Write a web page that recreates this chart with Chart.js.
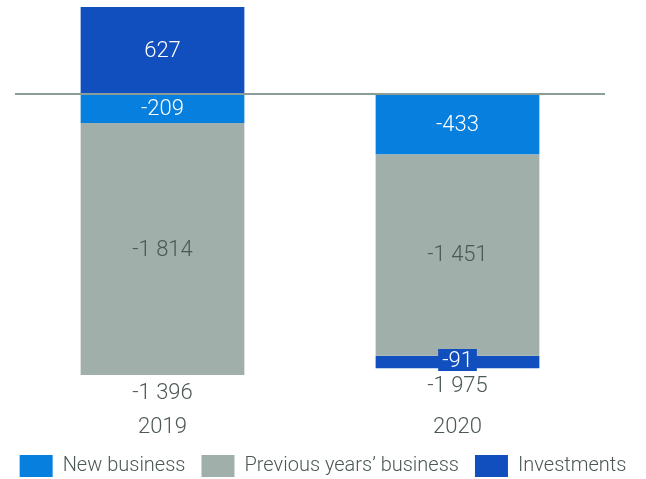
<!DOCTYPE html>
<html>
<head>
<meta charset="utf-8">
<script src="https://cdn.jsdelivr.net/npm/chart.js@4/dist/chart.umd.min.js"></script>
<style>
  html, body { margin: 0; padding: 0; background: #fff; }
  #wrap { width: 646px; height: 479px; }
</style>
</head>
<body>
<div id="wrap"><canvas id="chart-canvas" width="646" height="479"></canvas></div>
<script>
'use strict';

var YEARS          = ['2019', '2020'];
var NEW_BUSINESS   = [-209, -433];
var PREVIOUS_YEARS = [-1814, -1451];
var INVESTMENTS    = [627, -91];
var SERIES_NAMES   = ['New business', 'Previous years\u2019 business', 'Investments'];

var COLOR_NEW   = '#077fde';
var COLOR_PREV  = '#a1afab';
var COLOR_INV   = '#104fbd';
var COLOR_TEXT  = '#4b5854';
var COLOR_ZERO  = '#8c9c97';
var FONT        = 'Roboto, "Liberation Sans", sans-serif';

function fmt(v) {
	var s = Math.abs(v).toString().replace(/\B(?=(\d{3})+(?!\d))/g, ' ');
	return (v < 0 ? '-' : '') + s;
}

// valores dentro de las barras, totales y linea del cero
var labelsPlugin = {
	id: 'labels',
	beforeInit: function(chart) {
		// altura fija para la leyenda
		var originalFit = chart.legend.fit;
		chart.legend.fit = function() {
			originalFit.bind(chart.legend)();
			this.height = 40;
		};
	},
	afterDatasetsDraw: function(chart) {
		var ctx = chart.ctx;
		var area = chart.chartArea;
		var y0 = chart.scales.y.getPixelForValue(0);

		ctx.save();
		ctx.strokeStyle = COLOR_ZERO;
		ctx.lineWidth = 2;
		ctx.beginPath();
		ctx.moveTo(area.left, y0);
		ctx.lineTo(area.right, y0);
		ctx.stroke();

		ctx.textAlign = 'center';
		ctx.textBaseline = 'middle';
		ctx.font = '300 22px ' + FONT;

		chart.data.datasets.forEach(function(ds, di) {
			var meta = chart.getDatasetMeta(di);
			meta.data.forEach(function(bar, i) {
				var v = ds.data[i];
				var h = Math.abs(bar.base - bar.y);
				var cy = (bar.y + bar.base) / 2;
				var txt = fmt(v);
				if (h < 20) {
					var w = ctx.measureText(txt).width + 8;
					cy -= 2;
					ctx.fillStyle = ds.backgroundColor;
					ctx.fillRect(bar.x - w / 2, cy - 11, w, 22);
					ctx.fillStyle = '#ffffff';
				} else {
					ctx.fillStyle = di === 1 ? COLOR_TEXT : '#ffffff';
				}
				ctx.fillText(txt, bar.x, cy + 1);
			});
		});

		// totales debajo de cada barra
		YEARS.forEach(function(y, i) {
			var total = 0, bottom = y0;
			chart.data.datasets.forEach(function(ds, di) {
				total += ds.data[i];
				var bar = chart.getDatasetMeta(di).data[i];
				bottom = Math.max(bottom, bar.y, bar.base);
			});
			var x = chart.getDatasetMeta(0).data[i].x;
			ctx.fillStyle = COLOR_TEXT;
			ctx.fillText(fmt(total), x, bottom + 18);
		});
		ctx.restore();
	}
};

var ctx = document.getElementById('chart-canvas');

var myChart = new Chart(ctx, {
	type: 'bar',
	data: {
		labels: YEARS,
		datasets: [
			{ label: SERIES_NAMES[0], data: NEW_BUSINESS,   backgroundColor: COLOR_NEW },
			{ label: SERIES_NAMES[1], data: PREVIOUS_YEARS, backgroundColor: COLOR_PREV },
			{ label: SERIES_NAMES[2], data: INVESTMENTS,    backgroundColor: COLOR_INV }
		]
	},
	options: {
		responsive: false,
		animation: false,
		layout: { padding: { left: 0, right: 0, top: 7, bottom: 0 } },
		datasets: { bar: { categoryPercentage: 1, barPercentage: 0.555, borderWidth: 0 } },
		scales: {
			x: {
				stacked: true,
				grid: { display: false },
				border: { display: false },
				ticks: { padding: 31, color: COLOR_TEXT, font: { family: FONT, size: 22, weight: '300' } },
				afterFit: function(axis) { axis.height = 64; }
			},
			y: {
				stacked: true,
				min: -2023,
				max: 627,
				grid: { display: false },
				border: { display: false },
				ticks: { display: false },
				afterFit: function(axis) { axis.width = 15; }
			},
			yr: {
				position: 'right',
				grid: { display: false },
				border: { display: false },
				ticks: { display: false },
				afterFit: function(axis) { axis.width = 41; }
			}
		},
		plugins: {
			legend: {
				position: 'bottom',
				labels: {
					boxWidth: 33,
					boxHeight: 22,
					padding: 16,
					color: COLOR_TEXT,
					font: { family: FONT, size: 20, weight: '300' }
				}
			},
			tooltip: { enabled: false }
		}
	},
	plugins: [labelsPlugin]
});
</script>
</body>
</html>
